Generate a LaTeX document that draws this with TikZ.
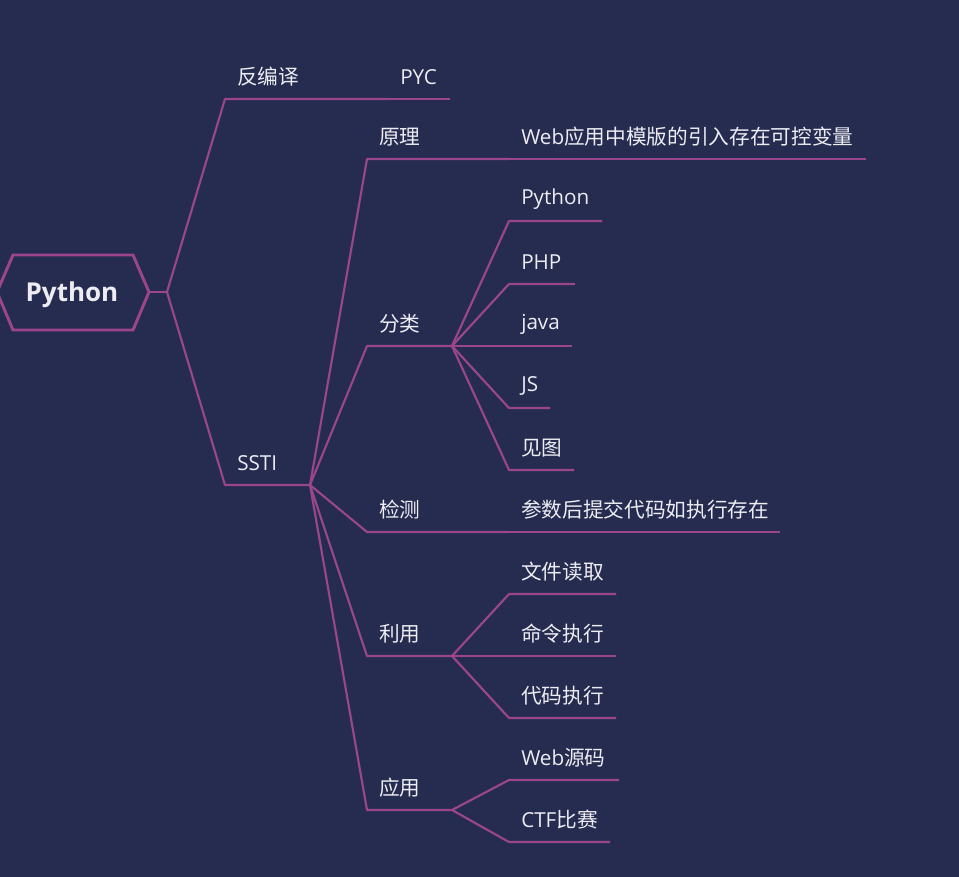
\documentclass[tikz,border=0pt]{standalone}
\usepackage{fontspec}
\setmainfont{Open Sans}
\newfontfamily\cjk{Noto Sans CJK SC}
\definecolor{bg}{RGB}{38,44,80}
\definecolor{edgec}{RGB}{155,70,140}
\definecolor{txt}{RGB}{236,236,242}
\newcommand\mybranch[6]{%
  \coordinate (#2-s) at (#3,#5);
  \coordinate (#2-e) at (#4,#5);
  \node[lbl] (#2) at (#3+12,#5-22) {#6};
  \draw[edge] (#1) -- (#2-s) -- (#2-e);
}
\begin{document}
\begin{tikzpicture}[x=0.75pt,y=-0.75pt,
  lbl/.style={anchor=west,inner sep=0,text=txt,font=\fontsize{15.5pt}{18pt}\selectfont},
  edge/.style={draw=edgec,line width=1.6pt,line join=round},
  rootbox/.style={draw=edgec,line width=2.2pt,line join=miter}]
\fill[bg] (0,0) rectangle (959,877);
\useasboundingbox (0,0) rectangle (959,877);
% root
\draw[rootbox] (-3,292) -- (13,255) -- (133,255) -- (149,292) -- (133,330) -- (13,330) -- cycle;
\node[text=txt,font=\bfseries\fontsize{19.5pt}{22pt}\selectfont,inner sep=0] (root) at (72,295) {Python};
\coordinate (root-r) at (149,292);
\coordinate (rootfork) at (167,292);
\draw[edge] (root-r) -- (rootfork);
% level 1
\mybranch{rootfork}{fby}{225}{388}{99}{\cjk 反编译}
\mybranch{fby-e}{pyc}{388}{450}{99}{PYC}
\mybranch{rootfork}{ssti}{225}{310}{485}{SSTI}
% level 2
\mybranch{ssti-e}{yl}{367}{509}{159}{\cjk 原理}
\mybranch{yl-e}{ylt}{509}{866}{159}{Web{\cjk 应用中模版的引入存在可控变量}}
\mybranch{ssti-e}{fl}{367}{452}{346}{\cjk 分类}
\mybranch{ssti-e}{jc}{367}{509}{532}{\cjk 检测}
\mybranch{jc-e}{jct}{509}{780}{532}{\cjk 参数后提交代码如执行存在}
\mybranch{ssti-e}{ly}{367}{452}{656}{\cjk 利用}
\mybranch{ssti-e}{yy}{367}{452}{810}{\cjk 应用}
% 分类 children
\mybranch{fl-e}{py}{509}{602}{221}{Python}
\mybranch{fl-e}{php}{509}{575}{284}{PHP}
\mybranch{fl-e}{java}{509}{572}{346}{java}
\mybranch{fl-e}{js}{509}{550}{408}{JS}
\mybranch{fl-e}{jt}{509}{574}{470}{\cjk 见图}
% 利用 children
\mybranch{ly-e}{wj}{509}{616}{594}{\cjk 文件读取}
\mybranch{ly-e}{ml}{509}{616}{656}{\cjk 命令执行}
\mybranch{ly-e}{dm}{509}{616}{718}{\cjk 代码执行}
% 应用 children
\mybranch{yy-e}{wy}{509}{619}{780}{Web{\cjk 源码}}
\mybranch{yy-e}{ctf}{509}{610}{842}{CTF{\cjk 比赛}}
\end{tikzpicture}
\end{document}
